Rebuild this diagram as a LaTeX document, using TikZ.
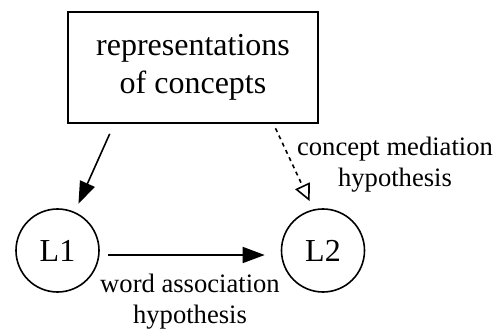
\documentclass[tikz,border=0pt]{standalone}
\usepackage{fontspec}
\setmainfont{Liberation Serif}
\usetikzlibrary{arrows.meta}

\begin{document}
\begin{tikzpicture}[x=1pt,y=1pt,
	box/.style={draw, line width=0.8pt, minimum width=125pt, minimum height=55.5pt, align=center, font=\fontsize{16}{19}\selectfont},
	word/.style={draw, circle, line width=0.8pt, minimum size=41.5pt, inner sep=0pt, font=\fontsize{16}{19}\selectfont},
	note/.style={align=center, font=\fontsize{13.3}{15.5}\selectfont},
	link/.style={line width=0.8pt, -{Triangle[length=11pt,width=8pt]}},
	dashlink/.style={line width=0.8pt, dash pattern=on 2pt off 2pt, -{Triangle[open,length=8.5pt,width=8pt]}}]
\useasboundingbox (0,0) rectangle (248.5,166);
\node[box] (concepts) at (96.5,132.25) {representations\\of concepts};
\node[word] (L1) at (28.75,40.75) {L1};
\node[word] (L2) at (161.5,40.75) {L2};
\draw[link, shorten <=5.5pt, shorten >=4.5pt] ([xshift=23.5pt]concepts.south west) -- (L1);
\draw[dashlink, shorten <=2.5pt, shorten >=4.5pt] ([xshift=-22.7pt]concepts.south east) -- (L2.103);
\draw[link] ([xshift=4pt,yshift=-2.25pt]L1.east) -- ([xshift=-8pt,yshift=-2.25pt]L2.west);
\node[note] (mediation) at (197.5,83.6) {concept mediation\\hypothesis};
\node[note] (association) at (95,15) {word association\\hypothesis};
\end{tikzpicture}
\end{document}
